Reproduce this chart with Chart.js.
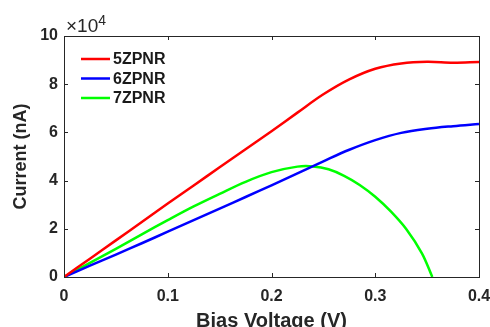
<!DOCTYPE html>
<html>
<head>
<meta charset="utf-8">
<script src="https://cdn.jsdelivr.net/npm/chart.js@4/dist/chart.umd.min.js"></script>
<style>
  html, body { margin: 0; padding: 0; background: #fff; }
  #wrap { width: 490px; height: 327px; position: relative; }
</style>
</head>
<body>
<div id="wrap"><canvas id="myChart"></canvas></div>
<script>
// bias voltage (V) and current (x10^4 nA)
var voltage = [0, 0.025, 0.05, 0.075, 0.1, 0.125, 0.15, 0.175, 0.2, 0.225, 0.25, 0.275, 0.3, 0.325, 0.35, 0.375, 0.4];
var current5 = [0, 0.76, 1.52, 2.28, 3.05, 3.8, 4.55, 5.3, 6.05, 6.82, 7.58, 8.2, 8.64, 8.86, 8.93, 8.89, 8.92];
var current6 = [0, 0.47, 0.93, 1.4, 1.88, 2.36, 2.84, 3.32, 3.8, 4.3, 4.8, 5.28, 5.68, 5.98, 6.15, 6.26, 6.35];
var voltage7 = [0, 0.025, 0.05, 0.075, 0.1, 0.125, 0.15, 0.175, 0.2, 0.225, 0.24, 0.255, 0.27, 0.285, 0.3, 0.315, 0.33, 0.345, 0.355];
var current7 = [0, 0.59, 1.17, 1.77, 2.36, 2.93, 3.45, 3.95, 4.35, 4.58, 4.59, 4.47, 4.2, 3.82, 3.33, 2.72, 1.98, 0.98, 0];

var labels = ["5ZPNR", "6ZPNR", "7ZPNR"];
var xTicks = [0, 0.1, 0.2, 0.3, 0.4];
var yTicks = [0, 2, 4, 6, 8, 10];
var exponentText = "\u00d710";
var exponentPower = "4";

var axisColor = "#262626";
var fontFam = "'Liberation Sans', Arial, sans-serif";

function pontos(xs, ys) {
  var out = [];
  for (var i = 0; i < xs.length; i++) {
    out.push({ x: xs[i], y: ys[i] });
  }
  return out;
}

// box, inward ticks, legend and exponent label
var caixaPlugin = {
  id: "caixa",
  afterDraw: function (chart) {
    var c = chart.ctx;
    var a = chart.chartArea;
    var sx = chart.scales.x;
    var sy = chart.scales.y;
    c.save();
    c.strokeStyle = axisColor;
    c.lineWidth = 1;
    c.strokeRect(Math.round(a.left) + 0.5, Math.round(a.top) + 0.5,
      Math.round(a.right - a.left), Math.round(a.bottom - a.top));
    c.beginPath();
    xTicks.forEach(function (v) {
      var px = Math.round(sx.getPixelForValue(v)) + 0.5;
      c.moveTo(px, a.bottom); c.lineTo(px, a.bottom - 4);
      c.moveTo(px, a.top); c.lineTo(px, a.top + 4);
    });
    yTicks.forEach(function (v) {
      var py = Math.round(sy.getPixelForValue(v)) + 0.5;
      c.moveTo(a.left, py); c.lineTo(a.left + 4, py);
      c.moveTo(a.right, py); c.lineTo(a.right - 4, py);
    });
    c.stroke();

    // exponent
    c.fillStyle = axisColor;
    c.textBaseline = "alphabetic";
    c.font = "19px " + fontFam;
    c.fillText(exponentText, a.left + 2, a.top - 4);
    var w = c.measureText(exponentText).width;
    c.font = "14px " + fontFam;
    c.fillText(exponentPower, a.left + 2 + w, a.top - 11);

    // legend
    c.font = "bold 16px " + fontFam;
    c.textBaseline = "middle";
    chart.data.datasets.forEach(function (ds, i) {
      var y = a.top + 23 + i * 19.5;
      c.strokeStyle = ds.borderColor;
      c.lineWidth = 2.5;
      c.beginPath();
      c.moveTo(a.left + 17, y);
      c.lineTo(a.left + 46, y);
      c.stroke();
      c.fillStyle = "#1a1a1a";
      c.fillText(ds.label, a.left + 49, y + 1);
    });
    c.restore();
  }
};

var ctx = document.getElementById("myChart");
var data = {
  datasets: [
    { label: labels[0], data: pontos(voltage, current5), borderColor: "#ff0000" },
    { label: labels[1], data: pontos(voltage, current6), borderColor: "#0000ff" },
    { label: labels[2], data: pontos(voltage7, current7), borderColor: "#00ff00" }
  ]
};

var myChart = new Chart(ctx, {
  type: "line",
  data: data,
  options: {
    responsive: true,
    maintainAspectRatio: false,
    animation: false,
    layout: { padding: { top: 36, right: 11, bottom: 0, left: 0 } },
    elements: {
      point: { radius: 0 },
      line: { borderWidth: 2.5, tension: 0.35, fill: false }
    },
    plugins: {
      legend: { display: false },
      tooltip: { enabled: false }
    },
    scales: {
      x: {
        type: "linear",
        min: 0,
        max: 0.4,
        afterBuildTicks: function (s) { s.ticks = xTicks.map(function (v) { return { value: v }; }); },
        afterFit: function (s) { s.height = 50; s.paddingLeft = 0; s.paddingRight = 0; },
        grid: { display: false, drawTicks: false },
        border: { display: false },
        ticks: {
          color: axisColor,
          padding: 10,
          maxRotation: 0,
          font: { family: fontFam, size: 16, weight: "bold" },
          callback: function (v) { return String(v); }
        },
        title: {
          display: true,
          text: "Bias Voltage (V)",
          color: axisColor,
          padding: { top: 0, bottom: -4 },
          font: { family: fontFam, size: 20, weight: "bold", lineHeight: 1 }
        }
      },
      y: {
        min: 0,
        max: 10,
        afterBuildTicks: function (s) { s.ticks = yTicks.map(function (v) { return { value: v }; }); },
        afterFit: function (s) { s.width = 64; s.paddingTop = 0; s.paddingBottom = 0; },
        grid: { display: false, drawTicks: false },
        border: { display: false },
        ticks: {
          color: axisColor,
          padding: 6,
          font: { family: fontFam, size: 16, weight: "bold" }
        },
        title: {
          display: true,
          text: "Current (nA)",
          color: axisColor,
          padding: { top: 12, bottom: 0 },
          font: { family: fontFam, size: 18, weight: "bold", lineHeight: 1 }
        }
      }
    }
  },
  plugins: [caixaPlugin]
});
</script>
</body>
</html>
